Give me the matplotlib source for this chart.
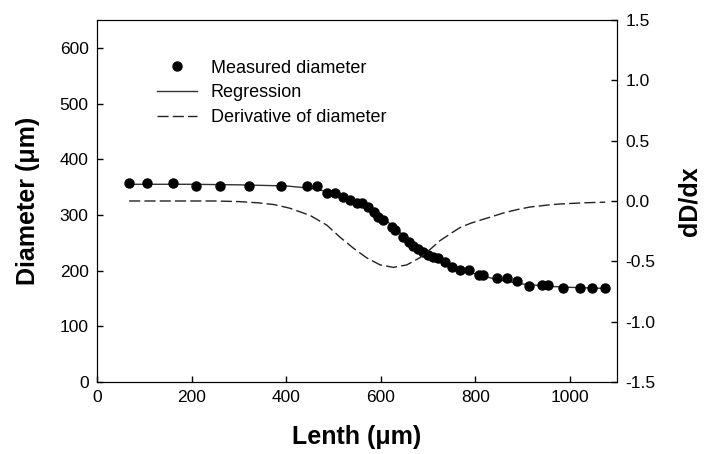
import matplotlib.pyplot as plt
import numpy as np

plt.rcParams['font.family'] = ['Liberation Sans', 'DejaVu Sans']

# measured diameter (um) along length (um)
length_pts = [68, 105, 160, 209, 260, 322, 389, 444, 465, 486, 504, 521, 535, 549,
              560, 574, 585, 595, 606, 623, 630, 648, 659, 669, 680, 690, 701, 711,
              722, 736, 750, 768, 786, 807, 817, 846, 868, 889, 914, 941, 955, 986,
              1022, 1046, 1075]
diam_pts = [358, 357, 357, 352, 352, 352, 352, 352, 352, 340, 340, 333, 327, 321,
            321, 315, 306, 297, 291, 278, 273, 260, 252, 244, 238, 234, 228, 225,
            222, 216, 206, 201, 201, 192, 192, 187, 187, 181, 172, 174, 174, 168,
            168, 168, 168]

# regression curve
reg_x = [68, 200, 300, 400, 450, 500, 530, 560, 590, 620, 650, 680, 710, 740,
         770, 800, 850, 900, 950, 1000, 1075]
reg_y = [355, 355, 354, 352, 348, 340, 332, 320, 304, 284, 262, 242, 226, 213,
         202, 194, 183, 176, 172, 170, 168]

# derivative of diameter (right axis)
der_x = [68, 250, 300, 340, 375, 408, 451, 486, 514, 542, 570, 599, 627, 655,
         683, 705, 725, 748, 768, 790, 810, 835, 859, 890, 916, 950, 979, 1030, 1075]
der_y = [0.0, 0.0, -0.005, -0.015, -0.03, -0.06, -0.12, -0.2, -0.3, -0.39, -0.47,
         -0.53, -0.55, -0.53, -0.47, -0.40, -0.33, -0.27, -0.22, -0.185, -0.16,
         -0.13, -0.10, -0.07, -0.05, -0.035, -0.025, -0.015, -0.01]

fig = plt.figure(figsize=(7.06, 4.54), dpi=100)
ax = fig.add_axes([0.1374, 0.1586, 0.7366, 0.7974])
ax2 = ax.twinx()

ax.plot(reg_x, reg_y, '-', color='#333333', lw=1.0, label='Regression')
ax.plot(length_pts, diam_pts, 'o', color='black', ms=6.5, ls='none', label='Measured diameter')
ax2.plot(der_x, der_y, color='#222222', lw=1.0, dashes=(8, 3), label='Derivative of diameter')

ax.set_xlim(0, 1100)
ax.set_ylim(0, 650)
ax2.set_ylim(-1.5, 1.5)
ax.set_xticks([0, 200, 400, 600, 800, 1000])
ax.set_yticks([0, 100, 200, 300, 400, 500, 600])
ax2.set_yticks([-1.5, -1.0, -0.5, 0.0, 0.5, 1.0, 1.5])
ax2.set_yticklabels(['-1.5', '-1.0', '-0.5', '0.0', '0.5', '1.0', '1.5'])

for a in (ax, ax2):
    a.tick_params(direction='in', length=4, width=1, labelsize=12.5, pad=6)

ax.set_xlabel('Lenth (\u03bcm)', fontsize=18, fontweight='bold', labelpad=14)
ax.set_ylabel('Diameter (\u03bcm)', fontsize=18, fontweight='bold', labelpad=14)
ax2.set_ylabel('dD/dx', fontsize=18, fontweight='bold', labelpad=16)

h1, l1 = ax.get_legend_handles_labels()
h2, l2 = ax2.get_legend_handles_labels()
ax.legend([h1[1], h1[0], h2[0]], [l1[1], l1[0], l2[0]], loc='upper left',
          bbox_to_anchor=(0.085, 0.935), frameon=False, fontsize=13,
          handlelength=2.2, handletextpad=0.75, labelspacing=0.42)

fig.savefig('out.png', dpi=100)
